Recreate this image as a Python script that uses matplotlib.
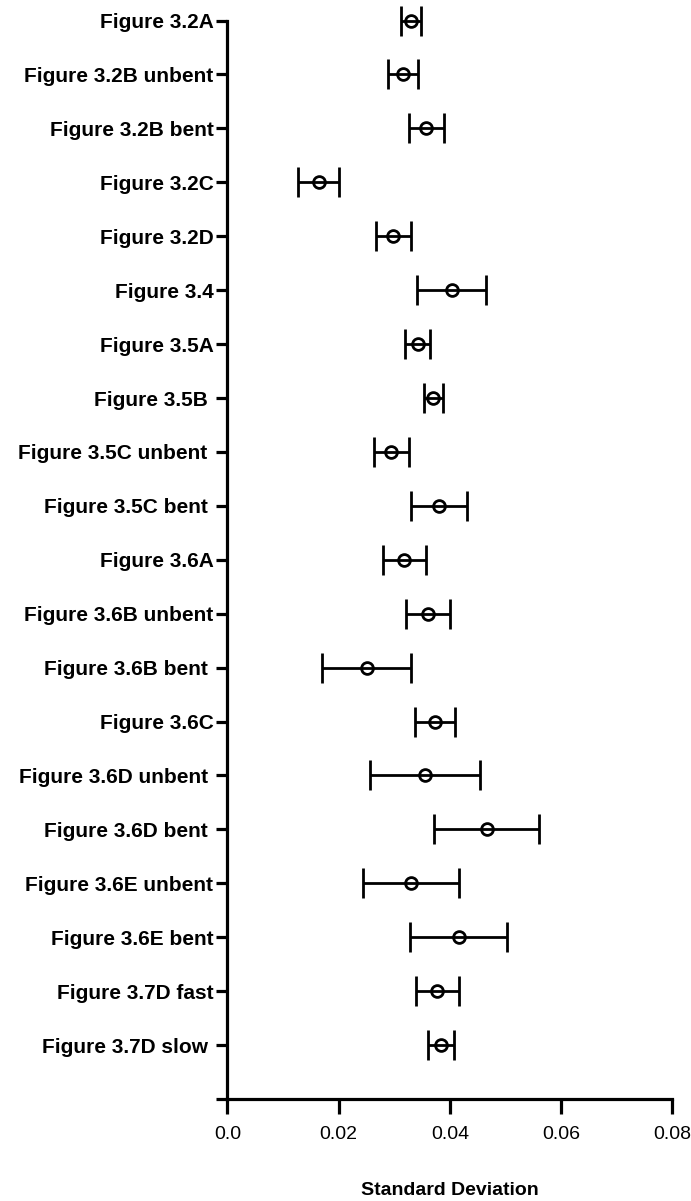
import matplotlib
matplotlib.use("Agg")
import matplotlib.pyplot as plt
import numpy as np

plt.rcParams["font.family"] = ["Liberation Sans", "DejaVu Sans"]

# one row per figure panel, top to bottom
labels = [
    "Figure 3.2A", "Figure 3.2B unbent", "Figure 3.2B bent", "Figure 3.2C",
    "Figure 3.2D", "Figure 3.4", "Figure 3.5A", "Figure 3.5B ",
    "Figure 3.5C unbent ", "Figure 3.5C bent ", "Figure 3.6A",
    "Figure 3.6B unbent", "Figure 3.6B bent ", "Figure 3.6C",
    "Figure 3.6D unbent ", "Figure 3.6D bent ", "Figure 3.6E unbent",
    "Figure 3.6E bent", "Figure 3.7D fast", "Figure 3.7D slow ",
]
means = [
    0.0330, 0.0316, 0.0358, 0.0164, 0.0298, 0.0403, 0.0342, 0.0370,
    0.0295, 0.0381, 0.0318, 0.0361, 0.0251, 0.0374, 0.0355, 0.0466,
    0.0330, 0.0416, 0.0377, 0.0384,
]
errors = [
    0.00175, 0.00275, 0.00315, 0.00367, 0.00315, 0.0062, 0.00228, 0.0017,
    0.00315, 0.0050, 0.00384, 0.0040, 0.0080, 0.0036, 0.00986, 0.0095,
    0.00867, 0.00876, 0.00387, 0.00234,
]
xticks = [0.0, 0.02, 0.04, 0.06, 0.08]
xtick_labels = ["0.0", "0.02", "0.04", "0.06", "0.08"]

fig = plt.figure(figsize=(6.91, 12.01), dpi=100)
ax = fig.add_axes([0.329, 0.0849, 0.644, 0.898])

ypos = np.arange(len(labels))
markers, caps, bars = ax.errorbar(
    means, ypos, xerr=errors, fmt="o", color="black",
    markerfacecolor="none", markeredgecolor="black",
    markersize=8.5, markeredgewidth=2.0,
    elinewidth=2.0, capsize=11, capthick=2.4,
)
markers.set_clip_on(False)
for c in caps:
    c.set_clip_on(False)
for b in bars:
    b.set_clip_on(False)

ax.set_xlim(0, 0.08)
ax.set_ylim(len(labels), 0)

ax.set_yticks(list(ypos) + [len(labels)])
ax.set_yticklabels(labels + [""], fontweight="bold", fontsize=15)
ax.set_xticks(xticks)
ax.set_xticklabels(xtick_labels, fontsize=14)

ax.spines["top"].set_visible(False)
ax.spines["right"].set_visible(False)
for s in ("left", "bottom"):
    ax.spines[s].set_linewidth(2.3)

ax.tick_params(axis="y", length=8, width=2.3, pad=2)
ax.tick_params(axis="x", length=10.5, width=2.3, pad=9)

ax.set_xlabel("Standard Deviation", fontweight="bold", fontsize=14, labelpad=28)

fig.savefig("out.png", dpi=100)
